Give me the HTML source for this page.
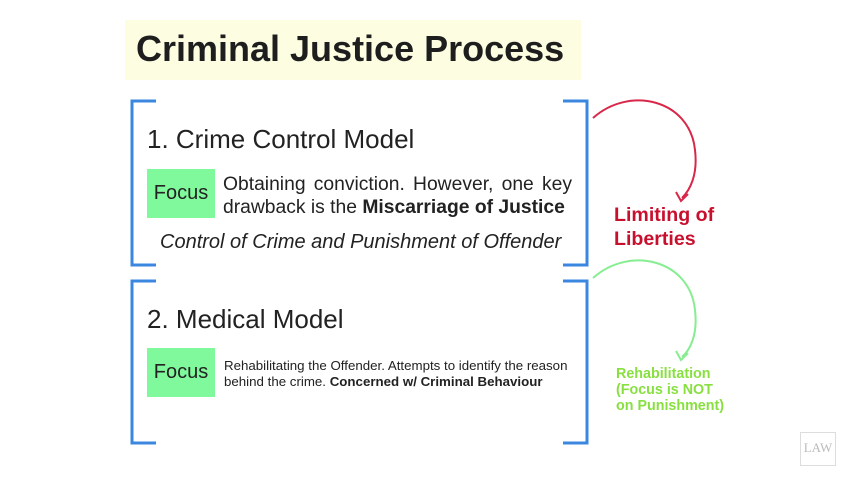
<!DOCTYPE html>
<html><head><style>
body{margin:0;width:853px;height:480px;background:#fff;position:relative;overflow:hidden;font-family:"Liberation Sans",sans-serif;color:#222}
div,span{position:absolute}
.t{white-space:nowrap}
.focus{background:#80f99c;width:68px;height:49px;font-size:20px;line-height:49px;text-align:center;color:#222}
</style></head><body>
<div style="left:125px;top:20px;width:456px;height:60px;background:#fdfde2"></div>
<div class="t" style="left:136px;top:28px;font-size:36px;font-weight:bold;color:#1e1e1e">Criminal Justice Process</div>
<svg width="853" height="480" style="position:absolute;left:0;top:0">
<g fill="none" stroke="#3b87e0" stroke-width="3">
<polyline points="156,101 132,101 132,265 156,265"/>
<polyline points="563,101 587,101 587,265 563,265"/>
<polyline points="156,281 132,281 132,443 156,443"/>
<polyline points="563,281 587,281 587,443 563,443"/>
</g>
<path d="M593,118 C630,85 690,100 695,150 C698,175 690,190 682,198" fill="none" stroke="#d8284a" stroke-width="2"/>
<path d="M676,192 L681,201 L688,194" fill="none" stroke="#d8284a" stroke-width="2"/>
<path d="M593,278 C630,245 690,260 695,310 C698,335 690,350 682,357" fill="none" stroke="#86ee90" stroke-width="2"/>
<path d="M676,351 L681,360 L688,353" fill="none" stroke="#86ee90" stroke-width="2"/>
</svg>
<div class="t" style="left:147px;top:124px;font-size:26px">1. Crime Control Model</div>
<div class="focus" style="left:147px;top:169px">Focus</div>
<div style="left:223px;top:173px;width:349px;font-size:19.3px;line-height:24px;text-align:justify;text-align-last:justify">Obtaining conviction. However, one key</div>
<div class="t" style="left:223px;top:196px;font-size:19.3px;line-height:24px">drawback is the <b>Miscarriage of Justice</b></div>
<div class="t" style="left:160px;top:231px;font-size:20px;font-style:italic">Control of Crime and Punishment of Offender</div>
<div class="t" style="left:147px;top:304px;font-size:26px">2. Medical Model</div>
<div class="focus" style="left:147px;top:348px">Focus</div>
<div class="t" style="left:224px;top:358px;font-size:13.3px;line-height:16px">Rehabilitating the Offender. Attempts to identify the reason<br>behind the crime. <b>Concerned w/ Criminal Behaviour</b></div>
<div class="t" style="left:614px;top:203px;font-size:19.6px;line-height:24px;font-weight:bold;color:#c8102e">Limiting of<br>Liberties</div>
<div class="t" style="left:616px;top:366px;font-size:14.3px;line-height:16px;font-weight:bold;color:#88e040">Rehabilitation<br>(Focus is NOT<br>on Punishment)</div>
<div style="left:800px;top:432px;width:34px;height:32px;border:1px solid #ddd"></div>
<div class="t" style="left:800px;top:440px;width:36px;text-align:center;font-family:'Liberation Serif',serif;font-size:13px;color:#bbb">LAW</div>
</body></html>
